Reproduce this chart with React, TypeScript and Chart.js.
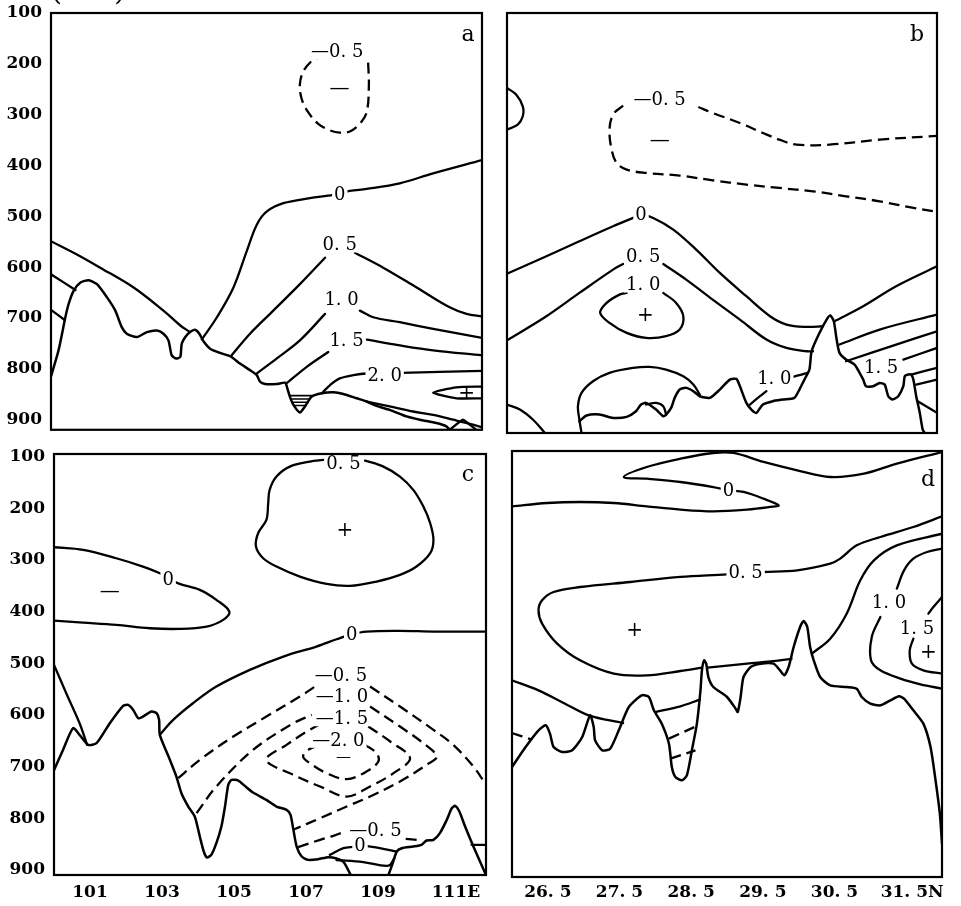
import React, { useEffect, useRef } from "react";
import { Chart, registerables } from "chart.js";

Chart.register(...registerables);

type Pt = [number, number];
type Seg = { pts: Pt[]; dash?: boolean; w?: number; t?: number };
type Lbl = { t: string; at: Pt; sign?: boolean; size?: number };

const FONT = '"DejaVu Serif", "Liberation Serif", serif';

// ---------- axes ----------
const pressureTicks = [100, 200, 300, 400, 500, 600, 700, 800, 900];
const lonTicks = [101, 103, 105, 107, 109, 111];
const lonTickLabels = ["101", "103", "105", "107", "109", "  111E"];
const latTicks = [26.5, 27.5, 28.5, 29.5, 30.5, 31.5];
const latTickLabels = ["26. 5", "27. 5", "28. 5", "29. 5", "30. 5", "  31. 5N"];

// ---------- panel a (lon, hPa) ----------
const aTerrain: Pt[] = [[100,815],[100.21,763.6],[100.4,698.6],[100.49,672.5],[100.63,646.5],[100.82,630.2],[101.05,625.7],[101.28,633.5],[101.56,659.5],[101.79,685.5],[101.97,718],[102.11,731],[102.39,737.6],[102.67,727.8],[102.95,724.6],[103.13,731],[103.27,744],[103.36,773.4],[103.48,779.9],[103.6,776.6],[103.64,750.6],[103.74,737.6],[103.87,727.8],[104.01,723.3],[104.13,731],[104.26,747.4],[104.43,760.4],[104.71,768.8],[104.99,775.3],[105.26,789.6],[105.54,802.6],[105.73,812.4],[105.82,825.4],[105.96,830],[106.28,830],[106.52,827.4],[106.58,838.4],[106.65,854.7],[106.75,871],[106.93,886],[107.07,874.2],[107.26,854.7],[107.54,848.2],[107.86,846.2],[108.14,849.5],[108.51,858],[108.79,864.4],[109.06,872.9],[109.43,880.7],[109.9,893.7],[110.27,900.2],[110.73,906.7],[111.01,913.2],[111.1,920]];
const aShelf: Pt[] = [[108.79,864.4],[109.53,875.5],[110.08,884],[110.64,890.5],[111.2,900.2],[111.75,910],[112,915]];
const aSpike: Pt[] = [[111.1,920],[111.47,900.2],[111.84,920]];
const aLeft0: Pt[] = [[100,549],[100.72,575],[101.37,601],[102.3,640],[103.13,685.5],[103.6,714.8],[103.87,727.8]];
const aLeft1: Pt[] = [[100,614],[100.68,645]];
const aLeft2: Pt[] = [[100,684],[100.38,704]];
const aZero: Pt[] = [[104.2,742],[104.62,698.6],[105.08,640],[105.45,568.4],[105.73,516.4],[106.01,490.4],[106.47,474.1],[107.21,464.3],[107.86,457.8],[108.32,450],[108.79,446.1],[109.71,435],[110.64,415.5],[112,389.5]];
const aP05a: Pt[] = [[105.03,773.4],[105.54,731],[106.19,685.5],[106.93,633.5],[107.63,581.4]];
const aP05b: Pt[] = [[108.46,571.7],[109.25,601],[110.18,640],[111.1,679],[111.57,692],[112,697]];
const aP10a: Pt[] = [[105.73,809.2],[106.28,779.9],[106.93,744.1],[107.63,692]];
const aP10b: Pt[] = [[108.6,685.5],[108.97,698.6],[109.71,708.3],[110.64,721.3],[112,739]];
const aP15a: Pt[] = [[106.58,827.4],[107.12,796.1],[107.72,766.9]];
const aP15b: Pt[] = [[108.79,742.8],[109.71,753.9],[110.64,763.6],[112,773.4]];
const aP20: Pt[] = [[107.54,848.2],[107.77,831.9],[108.04,818.9],[108.42,812.4],[108.79,809.2],[109.76,807.9],[110.82,805.9],[112,804]];
const aP25: Pt[] = [[112,835],[111.29,836.5],[110.64,846.9],[111.29,858],[112,858]];
const aN05: Pt[] = [[108.83,197.6],[108.85,243.1],[108.79,295.2],[108.6,318],[108.32,333],[108.04,335.5],[107.77,331],[107.44,318],[107.16,295.2],[106.98,269.2],[106.93,239.9],[107.03,213.9],[107.26,194.3],[107.4,189.8]];
const aHatch1: Pt[] = [[106.64,852.8],[107.26,852.8]];
const aHatch2: Pt[] = [[106.67,859.3],[107.21,859.3]];
const aHatch3: Pt[] = [[106.71,865.8],[107.16,865.8]];
const aHatch4: Pt[] = [[106.77,872.3],[107.1,872.3]];

// ---------- panel b (lat, hPa) ----------
const bTerrain: Pt[] = [[27.01,897],[27.11,885.9],[27.29,884],[27.48,890.5],[27.67,888.5],[27.8,877.5],[27.87,864.4],[27.94,861.2],[28.08,874.2],[28.18,887.2],[28.22,884],[28.29,871],[28.34,851.4],[28.41,835.2],[28.5,831.9],[28.6,838.4],[28.69,848.2],[28.83,851.4],[28.97,835.2],[29.11,815.7],[29.2,814.4],[29.25,828.7],[29.34,861.2],[29.41,874.2],[29.48,880.7],[29.57,864.4],[29.71,857.9],[29.85,854.7],[30.01,851.4],[30.08,835.2],[30.15,815.7],[30.22,796.1],[30.25,760.4],[30.36,724.6],[30.46,698.6],[30.51,690.7],[30.56,701.8],[30.6,737.6],[30.64,763.6],[30.73,776.6],[30.85,786.4],[30.92,802.6],[30.97,815.7],[31.01,828.7],[31.11,828.7],[31.2,822.2],[31.27,825.4],[31.32,848.2],[31.38,854.7],[31.46,848.2],[31.53,828.7],[31.55,809.2],[31.6,805.9],[31.64,805.9],[31.67,815.7],[31.71,848.2],[31.76,880.7],[31.8,913.2],[31.83,920]];
const bHalf: Pt[] = [[26,246.4],[26.13,259.4],[26.22,282.2],[26.22,301.7],[26.15,318],[26,327.7]];
const bN05a: Pt[] = [[27.62,280.9],[27.48,298.4],[27.43,327.7],[27.46,366.7],[27.53,392.8],[27.67,405.8],[27.94,412.3],[28.41,417.5],[28.87,426.6],[29.34,435],[29.8,441.6],[30.27,448.1],[30.73,457.8],[31.2,467.6],[31.67,480.6],[32,488]];
const bN05b: Pt[] = [[28.67,283.5],[28.87,295.2],[29.25,314.7],[29.57,334.2],[29.8,347.2],[30.04,357],[30.5,357],[31.2,347.2],[32,340]];
const b0a: Pt[] = [[26,609],[26.55,574.9],[27.01,545.7],[27.48,516.4],[27.76,500.1],[27.87,494],[28.04,500.1],[28.32,522.9],[28.64,561.9],[28.97,607.5],[29.34,653],[29.67,692],[29.9,708.3],[30.18,712.9],[30.41,711.6]];
const b0b: Pt[] = [[30.57,701.8],[30.97,672.5],[31.43,633.5],[32,594.5]];
const b05a: Pt[] = [[26,739],[26.55,692],[27.01,646.5],[27.48,601],[27.62,590]];
const b05b: Pt[] = [[28.18,590],[28.5,620.5],[28.87,659.5],[29.25,698.6],[29.62,737.6],[29.9,753.9],[30.18,760.4],[30.27,760.4]];
const b05c: Pt[] = [[30.64,747.3],[31.2,718],[32,688.8]];
const b10: Pt[] = [[28.18,646.5],[28.36,666],[28.46,692],[28.41,718],[28.22,731],[27.94,734.3],[27.67,724.6],[27.43,705],[27.3,685.5],[27.39,666],[27.57,649.8],[27.67,646.5]];
const b10r: Pt[] = [[30.73,779.9],[31.43,747.3],[32,721.3]];
const b15r: Pt[] = [[31.53,776.6],[32,753.9]];
const bR4: Pt[] = [[31.64,805.9],[32,792.9]];
const bR5: Pt[] = [[31.71,825.4],[32,815.7]];
const bR6: Pt[] = [[31.73,858],[32,880.7]];
const b10s1: Pt[] = [[29.39,864.4],[29.53,848.2],[29.62,838.4]];
const b10s2: Pt[] = [[29.99,810.5],[30.11,805.9],[30.2,802.6]];
const bArch: Pt[] = [[27.04,920],[27.01,893.7],[26.99,867.7],[27.04,841.7],[27.2,818.9],[27.43,802.6],[27.76,792.9],[27.99,790.9],[28.22,796.1],[28.46,809.2],[28.6,825.4],[28.69,845]];
const bCorner: Pt[] = [[26,864.4],[26.18,874.2],[26.36,893.7],[26.53,920]];
const bPocket: Pt[] = [[27.94,864.4],[28.08,861.2],[28.18,867.7],[28.22,884]];

// ---------- panel c (lon, hPa) ----------
const cTerrainL: Pt[] = [[100,707],[100.25,667.8],[100.53,625.8],[100.71,638.7],[100.95,658.1],[101.18,654.9],[101.55,616.2],[101.92,582.6],[102.06,580.7],[102.2,590.4],[102.34,606.5],[102.47,603.3],[102.71,593.6],[102.85,596.8],[102.92,609.7],[102.94,638.7],[103.22,687.1],[103.4,719.4],[103.54,751.7],[103.73,777.5],[103.91,796.8],[104.05,835.5],[104.16,864.5],[104.25,876.2],[104.37,871],[104.51,848.4],[104.65,816.2],[104.75,777.5],[104.84,735.5],[104.93,725.8],[105.12,727.1],[105.3,737.5],[105.53,750.4],[105.9,764.6],[106.18,777.5],[106.46,783.9],[106.57,793.6],[106.65,822.6],[106.74,854.9],[106.88,874.2],[107.06,880.7],[107.34,879.4],[107.62,875.5],[107.85,878.1],[108.04,884.6],[108.17,900],[108.24,910]];
const cTerrainR: Pt[] = [[109.29,910],[109.41,887.1],[109.52,864.5],[109.66,858.1],[109.98,854.9],[110.21,851.6],[110.35,843.2],[110.54,842],[110.72,829],[110.91,803.3],[111.05,780.7],[111.14,776.2],[111.26,787.1],[111.42,816.2],[111.65,854.9],[112,910]];
const cEdge: Pt[] = [[111.6,851.6],[112,851.6]];
const cLeft: Pt[] = [[100,503.2],[100.34,558.1],[100.71,616.2],[100.92,658.1]];
const cP05: Pt[] = [[108.64,107.7],[109.15,119.4],[109.61,138.7],[109.98,164.5],[110.26,196.8],[110.45,229],[110.54,261.3],[110.45,287.1],[110.07,312.9],[109.61,329],[108.96,341.9],[108.22,350.3],[107.57,346.5],[106.83,332.3],[106.18,312.9],[105.81,296.8],[105.61,274.2],[105.67,248.4],[105.9,222.6],[105.95,190.3],[105.99,164.5],[106.18,138.7],[106.55,119.4],[107.11,109.7],[107.48,106.5]];
const c0U: Pt[] = [[100,275.5],[100.81,280.7],[101.73,296.8],[102.47,312.9],[102.94,325.8],[103.17,336],[103.49,346.5],[104.05,358.1],[104.51,377.4],[104.87,400],[104.7,416.1],[104.24,429],[103.49,433.6],[102.66,432.3],[101.73,425.8],[100.81,421.3],[100,417.4]];
const c0L: Pt[] = [[102.96,636.8],[103.31,609.7],[103.86,577.5],[104.51,545.2],[105.44,512.9],[106.37,487.1],[107.29,467.8],[107.85,453.6],[108.27,444],[108.68,438.7],[109.61,437.4],[110.54,438.7],[112,438.7]];
const cN05a: Pt[] = [[103.45,722.6],[104.05,687.1],[104.98,642],[105.9,603.3],[106.83,564.5],[107.25,545.2]];
const cN05b: Pt[] = [[108.78,545.2],[109.61,583.9],[110.54,629],[111.09,658.1],[111.65,700],[112,735]];
const cN10a: Pt[] = [[103.96,790.3],[104.51,738.7],[105.53,667.8],[106.65,616.2],[107.16,600]];
const cN10b: Pt[] = [[108.78,583.9],[109.61,622.6],[110.26,654.9],[110.63,680.7],[110.35,696.8],[109.61,729],[108.78,758.1],[108.13,777.5],[107.39,800],[106.66,822]];
const cN15: Pt[] = [[108.73,622.6],[109.34,651.6],[109.89,683.9],[109.43,712.9],[108.78,738.7],[108.13,758.1],[107.39,738.7],[106.65,716.2],[105.9,687.1],[106.46,658.1],[107.02,632.3],[107.44,616.2]];
const cN20: Pt[] = [[108.64,658.1],[108.96,674.2],[109.01,690.3],[108.68,709.7],[108.13,724.5],[107.57,712.9],[107.11,693.6],[106.92,680.7],[107.06,667.8],[107.39,658.1]];
const cN05lowA: Pt[] = [[106.78,856],[107.39,841.9],[107.76,834.2],[108.0,828]];
const cN05lowB: Pt[] = [[109.77,840],[110.1,842]];
const c0B: Pt[] = [[107.66,871],[108.04,858.1],[108.36,854.9],[108.5,852],[108.64,853.6],[109.05,858.1],[109.52,864.5]];
const cBot: Pt[] = [[107.85,881],[108.59,885],[109.29,892],[109.45,878]];

// ---------- panel d (lat, hPa) ----------
const dTerrain: Pt[] = [[26,699.5],[26.19,661.3],[26.37,629.4],[26.47,619.8],[26.53,635.8],[26.58,661.3],[26.7,670.8],[26.84,667.7],[26.98,642.1],[27.09,600.7],[27.14,623],[27.16,648.5],[27.26,667.7],[27.37,664.5],[27.49,629.4],[27.63,584.8],[27.81,562.4],[27.91,565.6],[27.98,591.1],[28.09,616.6],[28.19,654.9],[28.23,699.5],[28.28,718.7],[28.37,725],[28.44,715.5],[28.51,667.7],[28.58,616.6],[28.63,552.9],[28.65,514.6],[28.68,495.5],[28.71,501.9],[28.74,527.4],[28.81,546.5],[29,565.6],[29.12,587.9],[29.15,594.3],[29.19,565.6],[29.23,527.4],[29.33,508.2],[29.47,501.9],[29.65,501.9],[29.74,514.6],[29.8,524.2],[29.86,508.2],[29.93,470],[30.02,431.7],[30.07,420.2],[30.12,431.7],[30.16,470],[30.21,495.5],[30.3,527.4],[30.44,543.3],[30.67,546.5],[30.81,549.7],[30.88,565.6],[31,578.4],[31.14,581.6],[31.28,572],[31.4,564.3],[31.47,568.8],[31.6,591.1],[31.74,616.6],[31.84,661.3],[31.91,725],[31.97,788.8],[32,846]];
const d0: Pt[] = [[26,201],[26.49,194.5],[26.95,192.6],[27.42,194.5],[27.88,200.9],[28.35,207.2],[28.81,210.4],[29.28,207.2],[29.6,202.1],[29.72,199],[29.51,186.2],[29.23,173.4],[29.02,170.2],[28.81,163.9],[28.35,154.3],[27.88,147.9],[27.56,144.7],[27.88,125.6],[28.35,109.7],[28.81,98.8],[29.09,98.8],[29.51,116],[29.98,132],[30.44,144.7],[30.91,138.4],[31.37,119.2],[32,97]];
const d05a: Pt[] = [[32,220],[31.6,240.4],[31.14,259.5],[30.81,275.5],[30.58,301],[30.44,310.5],[29.98,323.3],[29.51,326.5],[29.26,328],[29,331],[28.35,336],[27.65,345.6],[26.95,355.2],[26.58,364.7],[26.42,380.7],[26.37,399.8],[26.42,425.3],[26.63,463.6],[26.95,495.5],[27.42,521],[27.88,524.2],[28.35,515.9],[28.65,509.5]];
const d05b: Pt[] = [[28.73,509.5],[29.28,501.9],[29.74,495.5],[29.9,492.5]];
const d05c: Pt[] = [[30.19,482],[30.44,454],[30.67,406.2],[30.86,342.4],[31.05,304.2],[31.37,275.5],[32,253.2]];
const d10a: Pt[] = [[31.37,358.4],[31.47,323.3],[31.6,301],[31.79,288.2],[32,281.8]];
const d10b: Pt[] = [[31.14,412.6],[31.02,450.8],[31.01,495.5],[31.14,514.6],[31.42,530.5],[31.7,541.4],[32,549.7]];
const d15a: Pt[] = [[32,374.3],[31.88,393.4],[31.81,406.2]];
const d15b: Pt[] = [[31.6,454],[31.55,476.3],[31.58,501.9],[31.74,514.6],[32,521]];
const dLineA: Pt[] = [[26,533.7],[26.37,552.9],[26.74,578.4],[27.07,600.7],[27.55,615.4]];
const dLineB: Pt[] = [[28,594.5],[28.35,583.5],[28.62,570.7]];
const dDash1: Pt[] = [[26,634.5],[26.28,647.2]];
const dDash2: Pt[] = [[28.19,645.3],[28.6,619.8]];
const dDash3: Pt[] = [[28.21,683.6],[28.56,667.7]];

// ---------- labels ----------
const aLabels: Lbl[] = [
  { t: "—0. 5", at: [107.97, 174.8] },
  { t: "—", at: [108.03, 246.4], sign: true },
  { t: "0", at: [108.04, 456.5] },
  { t: "0. 5", at: [108.04, 555.4] },
  { t: "1. 0", at: [108.09, 662.8] },
  { t: "1. 5", at: [108.23, 744.1] },
  { t: "2. 0", at: [109.29, 812.4] },
  { t: "+", at: [111.57, 847.5], sign: true },
];
const bLabels: Lbl[] = [
  { t: "—0. 5", at: [28.13, 268] },
  { t: "—", at: [28.13, 347.2], sign: true },
  { t: "0", at: [27.87, 494] },
  { t: "0. 5", at: [27.9, 575] },
  { t: "1. 0", at: [27.9, 630.2] },
  { t: "+", at: [27.93, 688.8], sign: true },
  { t: "1. 0", at: [29.73, 812.4] },
  { t: "1. 5", at: [31.22, 791] },
];
const cLabels: Lbl[] = [
  { t: "0. 5", at: [108.04, 112.9] },
  { t: "+", at: [108.08, 241.9], sign: true },
  { t: "0", at: [103.17, 337] },
  { t: "—", at: [101.55, 359.4], sign: true },
  { t: "0", at: [108.27, 444] },
  { t: "—0. 5", at: [107.97, 522.6] },
  { t: "—1. 0", at: [108.0, 564.5] },
  { t: "—1. 5", at: [108.0, 606.5] },
  { t: "—2. 0", at: [107.9, 648.4] },
  { t: "—", at: [108.04, 680.7], sign: true, size: 15 },
  { t: "—0. 5", at: [108.93, 823] },
  { t: "0", at: [108.5, 852] },
];
const dLabels: Lbl[] = [
  { t: "0", at: [29.02, 170.2] },
  { t: "0. 5", at: [29.26, 328] },
  { t: "+", at: [27.71, 436.8], sign: true },
  { t: "1. 0", at: [31.26, 383.9] },
  { t: "1. 5", at: [31.65, 434.9] },
  { t: "+", at: [31.81, 479.5], sign: true },
];

const T = 0.22; // terrain smoothing
const TW = 2.5; // terrain width
const aSegs: Seg[] = [
  { pts: aTerrain, t: T, w: TW }, { pts: aShelf }, { pts: aSpike, t: 0.1 },
  { pts: aLeft0 }, { pts: aLeft1 }, { pts: aLeft2 }, { pts: aZero },
  { pts: aP05a }, { pts: aP05b }, { pts: aP10a }, { pts: aP10b },
  { pts: aP15a }, { pts: aP15b }, { pts: aP20 }, { pts: aP25, t: 0.2 },
  { pts: aN05, dash: true },
  { pts: aHatch1, t: 0, w: 1.6 }, { pts: aHatch2, t: 0, w: 1.6 }, { pts: aHatch3, t: 0, w: 1.6 }, { pts: aHatch4, t: 0, w: 1.6 },
];
const bSegs: Seg[] = [
  { pts: bTerrain, t: T, w: TW }, { pts: bHalf }, { pts: bN05a, dash: true }, { pts: bN05b, dash: true },
  { pts: b0a }, { pts: b0b }, { pts: b05a }, { pts: b05b }, { pts: b05c }, { pts: b10 },
  { pts: b10r }, { pts: b15r }, { pts: bR4 }, { pts: bR5 }, { pts: bR6 },
  { pts: b10s1 }, { pts: b10s2 }, { pts: bArch }, { pts: bCorner }, { pts: bPocket },
];
const cSegs: Seg[] = [
  { pts: cTerrainL, t: T, w: TW }, { pts: cTerrainR, t: T, w: TW }, { pts: cEdge }, { pts: cLeft },
  { pts: cP05 }, { pts: c0U }, { pts: c0L },
  { pts: cN05a, dash: true }, { pts: cN05b, dash: true }, { pts: cN10a, dash: true }, { pts: cN10b, dash: true },
  { pts: cN15, dash: true }, { pts: cN20, dash: true }, { pts: cN05lowA, dash: true }, { pts: cN05lowB, dash: true },
  { pts: c0B }, { pts: cBot },
];
const dSegs: Seg[] = [
  { pts: dTerrain, t: T, w: TW }, { pts: d0 }, { pts: d05a }, { pts: d05b }, { pts: d05c },
  { pts: d10a }, { pts: d10b }, { pts: d15a }, { pts: d15b }, { pts: dLineA }, { pts: dLineB },
  { pts: dDash1, dash: true }, { pts: dDash2, dash: true }, { pts: dDash3, dash: true },
];

type PanelCfg = {
  left: number; top: number; w: number; h: number;
  pad: { left: number; top: number; right: number; bottom: number };
  xr: [number, number]; yr: [number, number];
  yAxisW?: number; xAxisH?: number; xGap?: number;
  xTicks?: number[]; xLabels?: string[];
  segs: Seg[]; labels: Lbl[]; letter: string; letterOff: [number, number]; note?: boolean;
};

const panels: PanelCfg[] = [
  { left: 0, top: 0, w: 490, h: 440, pad: { left: 0, top: 13, right: 8, bottom: 7 }, xr: [100, 112], yr: [100, 920],
    yAxisW: 51, segs: aSegs, labels: aLabels, letter: "a", letterOff: [-14, 22], note: true },
  { left: 490, top: 0, w: 471, h: 440, pad: { left: 17, top: 13, right: 24, bottom: 7 }, xr: [26, 32], yr: [100, 920],
    segs: bSegs, labels: bLabels, letter: "b", letterOff: [-20, 22] },
  { left: 0, top: 440, w: 490, h: 466, pad: { left: 0, top: 14, right: 4, bottom: 0 }, xr: [100, 112], yr: [95, 910],
    yAxisW: 54, xAxisH: 31, xGap: 7, xTicks: lonTicks, xLabels: lonTickLabels, segs: cSegs, labels: cLabels, letter: "c", letterOff: [-18, 21] },
  { left: 490, top: 440, w: 471, h: 466, pad: { left: 22, top: 11, right: 19, bottom: 0 }, xr: [26, 32], yr: [95, 910],
    xAxisH: 29, xGap: 5, xTicks: latTicks, xLabels: latTickLabels, segs: dSegs, labels: dLabels, letter: "d", letterOff: [-14, 29] },
];

const tickFont = { family: FONT, size: 17, weight: "bold" as const };

function Panel({ cfg }: { cfg: PanelCfg }) {
  const ref = useRef<HTMLCanvasElement | null>(null);
  useEffect(() => {
    const canvas = ref.current;
    if (!canvas) return;
    const overlay = {
      id: "overlay",
      afterDatasetsDraw(chart: any) {
        const ctx = chart.ctx as CanvasRenderingContext2D;
        const xs = chart.scales.x;
        const ys = chart.scales.y;
        const { left, top, right, bottom } = chart.chartArea;
        ctx.save();
        ctx.textAlign = "center";
        ctx.textBaseline = "middle";
        for (const l of cfg.labels) {
          const px = xs.getPixelForValue(l.at[0]);
          const py = ys.getPixelForValue(l.at[1]);
          ctx.font = `${l.size ?? (l.sign ? 20 : 18)}px ${FONT}`;
          if (!l.sign) {
            const tw = ctx.measureText(l.t).width;
            ctx.fillStyle = "#fff";
            ctx.fillRect(px - tw / 2 - 2, py - 8, tw + 4, 16);
          }
          ctx.fillStyle = "#000";
          ctx.fillText(l.t, px, py + 1);
        }
        ctx.lineWidth = 2.2;
        ctx.strokeStyle = "#000";
        ctx.strokeRect(left, top, right - left, bottom - top);
        ctx.font = `22px ${FONT}`;
        ctx.fillText(cfg.letter, right + cfg.letterOff[0], top + cfg.letterOff[1]);
        if (cfg.note) {
          ctx.font = `28px ${FONT}`;
          ctx.textBaseline = "alphabetic";
          ctx.fillText("(hPa)", 88, 0);
        }
        ctx.restore();
      },
    };
    const chart = new Chart(canvas, {
      type: "scatter",
      data: {
        datasets: cfg.segs.map((s) => ({
          data: s.pts.map(([x, y]) => ({ x, y })),
          showLine: true,
          borderColor: "#000",
          backgroundColor: "#000",
          borderWidth: s.w ?? 2.3,
          borderDash: s.dash ? [11, 6] : [],
          borderCapStyle: s.dash ? "butt" : "round",
          borderJoinStyle: "round",
          pointRadius: 0,
          pointHoverRadius: 0,
          tension: s.t ?? 0.35,
          fill: false,
        })) as any,
      },
      options: {
        responsive: false,
        animation: false,
        devicePixelRatio: 1,
        events: [],
        layout: { padding: cfg.pad },
        plugins: { legend: { display: false }, tooltip: { enabled: false } },
        scales: {
          x: {
            type: "linear",
            min: cfg.xr[0],
            max: cfg.xr[1],
            display: !!cfg.xTicks,
            grid: { display: false, drawTicks: true, tickLength: cfg.xGap ?? 7 },
            border: { display: false },
            afterBuildTicks: (ax: any) => {
              ax.ticks = (cfg.xTicks ?? []).map((v) => ({ value: v }));
            },
            afterFit: (ax: any) => {
              if (cfg.xAxisH) ax.height = cfg.xAxisH;
            },
            ticks: {
              autoSkip: false,
              maxRotation: 0,
              minRotation: 0,
              padding: 0,
              color: "#000",
              font: tickFont,
              callback: (v: any) => {
                const i = (cfg.xTicks ?? []).indexOf(Number(v));
                return i >= 0 && cfg.xLabels ? cfg.xLabels[i] : "";
              },
            },
          },
          y: {
            type: "linear",
            reverse: true,
            min: cfg.yr[0],
            max: cfg.yr[1],
            display: !!cfg.yAxisW,
            grid: { display: false, drawTicks: true, tickLength: 9 },
            border: { display: false },
            afterBuildTicks: (ax: any) => {
              ax.ticks = pressureTicks.map((v) => ({ value: v }));
            },
            afterFit: (ax: any) => {
              if (cfg.yAxisW) ax.width = cfg.yAxisW;
            },
            ticks: {
              autoSkip: false,
              padding: 0,
              color: "#000",
              font: tickFont,
              callback: (v: any) => String(v),
            },
          },
        },
      } as any,
      plugins: [overlay],
    });
    return () => chart.destroy();
  }, [cfg]);
  return (
    <canvas
      ref={ref}
      width={cfg.w}
      height={cfg.h}
      style={{ position: "absolute", left: cfg.left, top: cfg.top, width: cfg.w, height: cfg.h, display: "block" }}
    />
  );
}

export default function App() {
  return (
    <div style={{ position: "fixed", left: 0, top: 0, width: 961, height: 906, background: "#fff", overflow: "hidden" }}>
      {panels.map((p, i) => (
        <Panel key={i} cfg={p} />
      ))}
    </div>
  );
}
